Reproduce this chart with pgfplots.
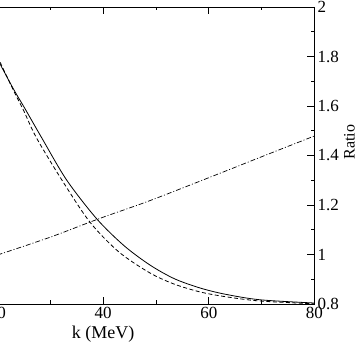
\documentclass[border=0pt]{standalone}
\usepackage{pgfplots}
\pgfplotsset{compat=1.18}
\usepackage{fontspec}
\setmainfont{Liberation Serif}

\begin{document}
\begin{tikzpicture}[x=1pt,y=1pt]
% the reference is a crop of a wider figure: keep only its window
\useasboundingbox (0,0) rectangle (359,343);
\clip (0,0) rectangle (359,343);
\begin{axis}[
    at={(-108.3pt,39pt)}, anchor=south west,
    scale only axis,
    width=422.8pt, height=297pt,
    xmin=0, xmax=80,
    ymin=0.8, ymax=2,
    xtick={0,20,40,60,80},
    minor x tick num=1,
    ytick={0.8,1,1.2,1.4,1.6,1.8,2},
    minor y tick num=1,
    tick align=inside,
    major tick length=7pt,
    minor tick length=3.5pt,
    xtick pos=both,
    ytick pos=right,
    yticklabel pos=right,
    axis line style={line width=0.8pt},
    every tick/.style={black, line width=0.6pt},
    /pgf/number format/assume math mode=true,
    tick label style={font=\fontsize{17}{19}\selectfont},
    yticklabel style={inner sep=1pt, xshift=2pt},
    xticklabel style={inner sep=1pt, yshift=-2pt},
    xlabel={k (MeV)},
    ylabel={Ratio},
    xlabel style={font=\fontsize{18}{20}\selectfont, yshift=-3pt},
    every axis y label/.style={at={([xshift=35pt]rel axis cs:1,0.545)},
        rotate=90, anchor=center, font=\fontsize{16}{18}\selectfont},
]
\addplot[black, line width=0.8pt, smooth] coordinates {
    (20,1.79) (23,1.67) (25.2,1.59) (28.4,1.471) (33.1,1.301)
    (38.8,1.144) (44,1.035) (48.9,0.957) (53.5,0.902) (58.3,0.865)
    (63,0.840) (69.7,0.817) (80,0.804)
};
\addplot[black, line width=0.8pt, smooth, dash pattern=on 4pt off 2.5pt] coordinates {
    (20,1.80) (23,1.665) (25,1.58) (27.4,1.471) (32.2,1.301)
    (37.5,1.131) (43,1.01) (48.9,0.925) (53.5,0.88) (58.3,0.849)
    (63,0.83) (69.7,0.812) (80,0.801)
};
\addplot[black, line width=0.7pt, smooth, dash pattern=on 5pt off 2pt on 1pt off 2pt] coordinates {
    (20,0.998) (30,1.07) (39.4,1.146) (48.9,1.218) (62.1,1.328)
    (70,1.395) (80,1.479)
};
\end{axis}
\end{tikzpicture}
\end{document}
